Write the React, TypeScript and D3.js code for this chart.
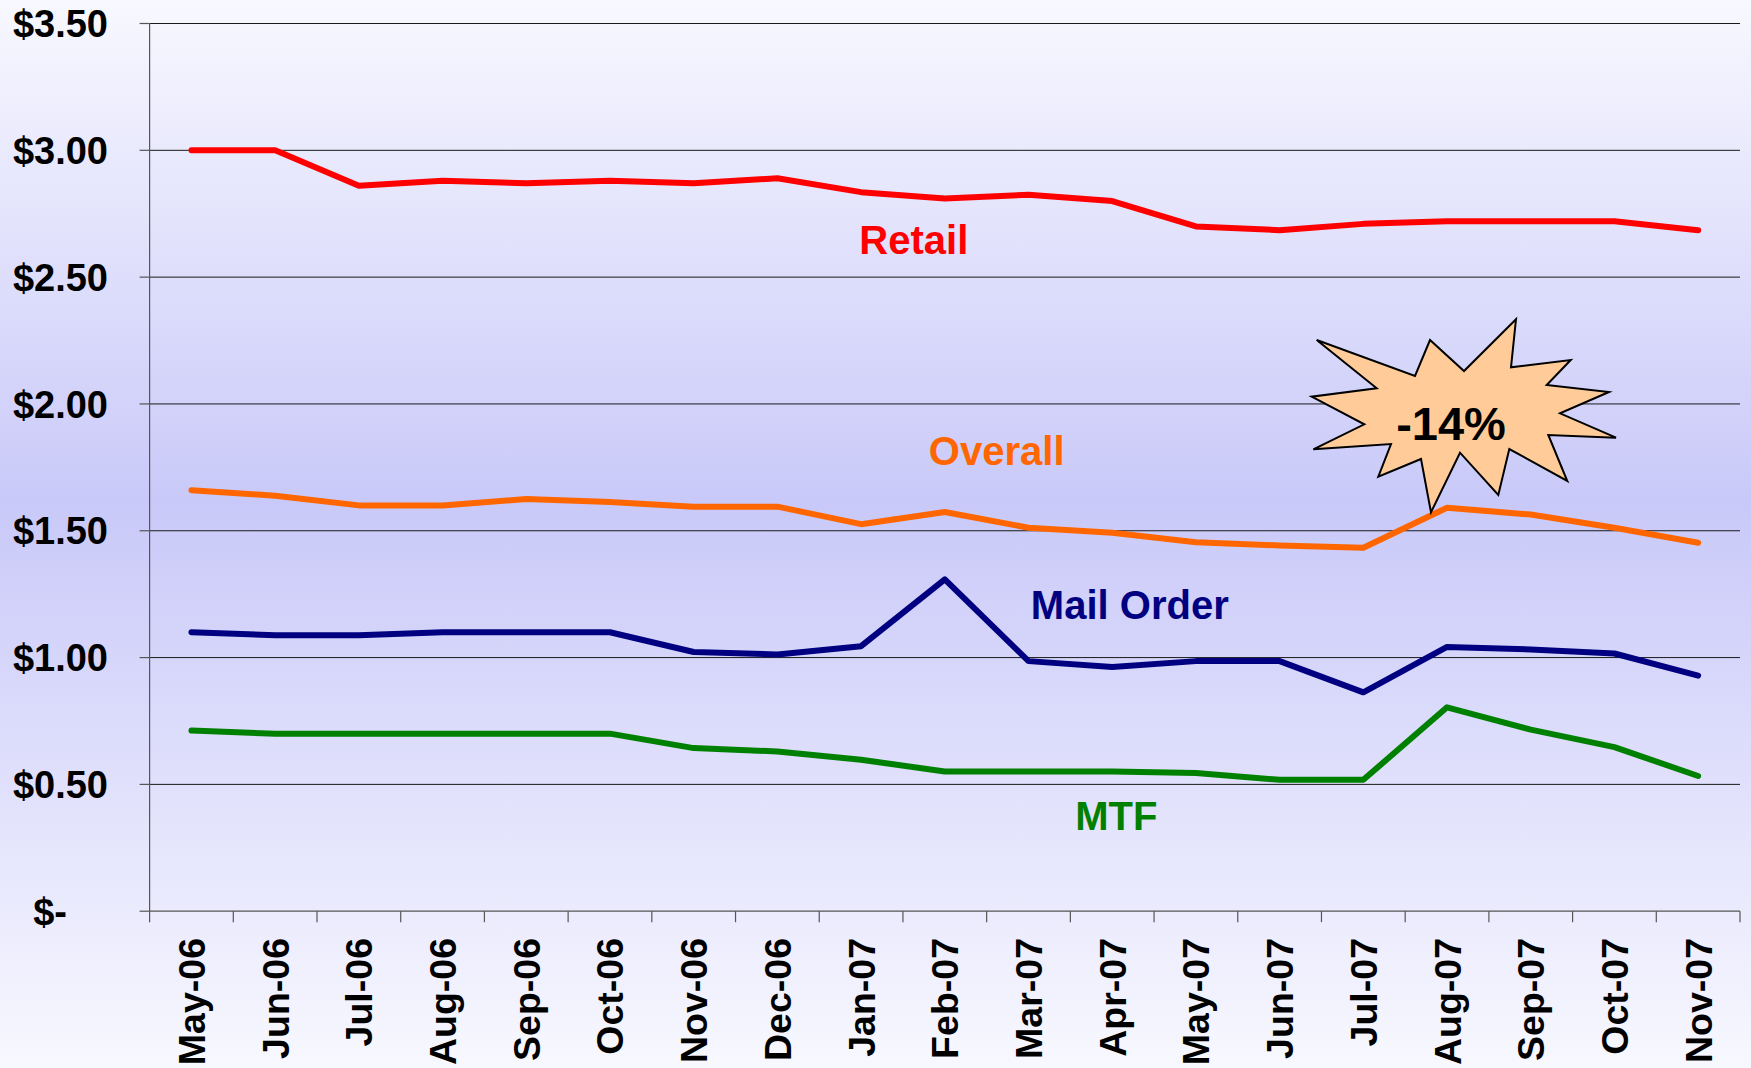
import React from "react";
import * as d3 from "d3";

const months = [
  "May-06", "Jun-06", "Jul-06", "Aug-06", "Sep-06", "Oct-06", "Nov-06", "Dec-06",
  "Jan-07", "Feb-07", "Mar-07", "Apr-07", "May-07", "Jun-07", "Jul-07", "Aug-07",
  "Sep-07", "Oct-07", "Nov-07",
];

const retail = [3.0, 3.0, 2.86, 2.88, 2.87, 2.88, 2.87, 2.89, 2.835, 2.81, 2.825, 2.8, 2.7, 2.685, 2.71, 2.72, 2.72, 2.72, 2.685];
const overall = [1.66, 1.638, 1.6, 1.6, 1.625, 1.613, 1.595, 1.595, 1.526, 1.574, 1.512, 1.492, 1.455, 1.442, 1.433, 1.591, 1.564, 1.512, 1.453];
const mailOrder = [1.1, 1.088, 1.088, 1.1, 1.1, 1.1, 1.022, 1.012, 1.045, 1.308, 0.986, 0.963, 0.986, 0.986, 0.863, 1.042, 1.032, 1.016, 0.929];
const mtf = [0.712, 0.7, 0.7, 0.7, 0.7, 0.7, 0.643, 0.63, 0.597, 0.551, 0.551, 0.551, 0.545, 0.518, 0.518, 0.804, 0.716, 0.647, 0.533];

const yTicks = [0, 0.5, 1, 1.5, 2, 2.5, 3, 3.5];
const yTickLabels = ["$-", "$0.50", "$1.00", "$1.50", "$2.00", "$2.50", "$3.00", "$3.50"];

const seriesNames = ["Retail", "Overall", "Mail Order", "MTF"];
const seriesValues = [retail, overall, mailOrder, mtf];
const seriesColors = ["#FF0000", "#FF6600", "#000080", "#008000"];
// label anchor: fractional category index and value for the baseline
const labelIdx = [8.63, 9.62, 11.21, 11.05];
const labelVal = [2.593, 1.761, 1.153, 0.321];

const calloutText = "-14%";

const W = 1751;
const H = 1068;
const plotLeft = 149.6;
const plotRight = 1740;
const plotTop = 23.5;
const plotBottom = 911.2;

const FONT = "'Liberation Sans', Arial, Helvetica, sans-serif";

// starburst outline (page pixels)
const burst: [number, number][] = [
  [1316.7, 340], [1415, 376], [1430, 340], [1464, 371], [1516, 319.3], [1511, 367.3],
  [1570.7, 360], [1546.7, 385], [1609, 392], [1560, 413.3], [1616, 437.7], [1548.3, 435],
  [1567.3, 481], [1509.3, 449], [1498.3, 495], [1460, 452.7], [1431, 512.3], [1421, 459],
  [1378.3, 476.7], [1391, 444], [1313.3, 449.3], [1364.3, 424.3], [1311.7, 396.7], [1376.7, 388.3],
];

export default function App() {
  const x = d3.scaleBand<string>().domain(months).range([plotLeft, plotRight]).padding(0);
  const bw = x.bandwidth();
  const cx = (m: string) => (x(m) as number) + bw / 2;
  const xIdx = (i: number) => plotLeft + (i + 0.5) * bw;
  const y = d3.scaleLinear().domain([0, 3.5]).range([plotBottom, plotTop]);

  const line = d3
    .line<number>()
    .x((_, i) => cx(months[i]))
    .y((d) => y(d));

  const boundaries = months.map((m) => x(m) as number).concat([plotRight]);

  return (
    <svg
      width={W}
      height={H}
      style={{ position: "absolute", left: 0, top: 0, display: "block" }}
      fontFamily={FONT}
    >
      <defs>
        <linearGradient id="bg" x1="0" y1="0" x2="0" y2="1">
          <stop offset="0" stopColor="#F8F8FF" />
          <stop offset="0.47" stopColor="#C9C9F9" />
          <stop offset="1" stopColor="#F8F8FF" />
        </linearGradient>
      </defs>
      <rect x={0} y={0} width={W} height={H} fill="url(#bg)" />

      {/* gridlines and y ticks */}
      {yTicks.map((t, i) => (
        <g key={t}>
          {t > 0 && (
            <line x1={plotLeft} x2={plotRight} y1={y(t)} y2={y(t)} stroke="#1a1a1a" strokeWidth={1} />
          )}
          <line x1={plotLeft - 10} x2={plotLeft} y1={y(t)} y2={y(t)} stroke="#555" strokeWidth={1.2} />
          <text
            x={t === 0 ? 67 : 108}
            y={y(t)}
            dy="0.36em"
            textAnchor="end"
            fontSize={38}
            fontWeight="bold"
            fill="#000"
          >
            {yTickLabels[i]}
          </text>
        </g>
      ))}

      {/* axes */}
      <line x1={plotLeft} x2={plotLeft} y1={plotTop} y2={plotBottom} stroke="#555" strokeWidth={1.2} />
      <line x1={plotLeft} x2={plotRight} y1={plotBottom} y2={plotBottom} stroke="#555" strokeWidth={1.2} />
      {boundaries.map((b, i) => (
        <line key={i} x1={b} x2={b} y1={plotBottom} y2={plotBottom + 11} stroke="#555" strokeWidth={1.2} />
      ))}

      {/* x labels */}
      {months.map((m) => (
        <text
          key={m}
          transform={`translate(${cx(m)},${938}) rotate(-90)`}
          dy="0.36em"
          textAnchor="end"
          fontSize={37.5}
          fontWeight="bold"
          fill="#000"
        >
          {m}
        </text>
      ))}

      {/* series lines */}
      {seriesValues.map((vals, i) => (
        <path
          key={seriesNames[i]}
          d={line(vals) as string}
          fill="none"
          stroke={seriesColors[i]}
          strokeWidth={6}
          strokeLinejoin="round"
          strokeLinecap="round"
        />
      ))}

      {/* series labels */}
      {seriesNames.map((n, i) => (
        <text
          key={n}
          x={xIdx(labelIdx[i])}
          y={y(labelVal[i])}
          textAnchor="middle"
          fontSize={40}
          fontWeight="bold"
          fill={seriesColors[i]}
        >
          {n}
        </text>
      ))}

      {/* callout */}
      <polygon
        points={burst.map((p) => p.join(",")).join(" ")}
        fill="#FFCC99"
        stroke="#000"
        strokeWidth={2}
        strokeLinejoin="miter"
      />
      <text x={1451} y={440} textAnchor="middle" fontSize={47} fontWeight="bold" fill="#000">
        {calloutText}
      </text>
    </svg>
  );
}
